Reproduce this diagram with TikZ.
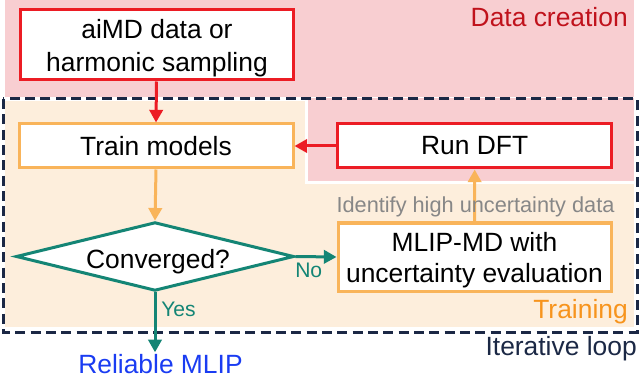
\documentclass[tikz,border=0pt]{standalone}
\usepackage{fontspec}
\setmainfont{Liberation Sans}
\usetikzlibrary{arrows.meta,shapes.geometric}
\definecolor{pinkbg}{HTML}{F8CED1}
\definecolor{orangebg}{HTML}{FDEEDC}
\definecolor{redline}{HTML}{EC1C24}
\definecolor{orangeline}{HTML}{F9B45A}
\definecolor{tealc}{HTML}{148575}
\definecolor{navy}{HTML}{1B2845}
\definecolor{darkred}{HTML}{C0121C}
\definecolor{orangetxt}{HTML}{F7941D}
\definecolor{bluetxt}{HTML}{1A3CF2}
\definecolor{graytxt}{HTML}{878787}
\newcommand{\mainf}{\fontsize{19.8pt}{24pt}\selectfont}
\newcommand{\smallf}{\fontsize{16.3pt}{19pt}\selectfont}
\newcommand{\yesf}{\fontsize{15.8pt}{19pt}\selectfont}
\begin{document}
\begin{tikzpicture}[x=0.75pt,y=-0.75pt,
  box/.style={draw, fill=white, line width=2.25pt, inner sep=0pt, font=\mainf},
  redbox/.style={box, draw=redline},
  orbox/.style={box, draw=orangeline},
  txt/.style={inner sep=0pt, font=\mainf, text=black},
  arr/.style={line width=2.25pt, -{Triangle[length=9.5pt,width=10pt]}},
  loopline/.style={draw=navy, line width=2.25pt, dash pattern=on 7.5pt off 4pt}
]
\useasboundingbox (0,0) rectangle (640,378);
% backgrounds
\fill[orangebg] (5,101) rectangle (634,327);
\fill[pinkbg] (5,0) rectangle (634,97);
\fill[white] (305,98) rectangle (634,184);
\fill[pinkbg] (308,98) rectangle (634,181);
\draw[loopline] (3,99) rectangle (637,332);
% labels of regions
\node[inner sep=0pt, anchor=base east, font=\mainf, text=darkred] (lbldata) at (628,27) {Data creation};
\node[inner sep=0pt, anchor=base east, font=\mainf, text=orangetxt] (lbltrain) at (628,318) {Training};
\node[inner sep=0pt, anchor=base east, font=\mainf, text=navy] (lblloop) at (637,355) {Iterative loop};
% boxes
\node[redbox, minimum width=204.75pt, minimum height=52.5pt] (aimd) at (156.5,45) {};
\node[txt, align=center, font=\fontsize{19.8pt}{24.75pt}\selectfont] (aimdt) at (157,47.75) {aiMD data or\\harmonic sampling};
\node[orbox, minimum width=205.5pt, minimum height=33pt] (train) at (156,146) {Train models};
\node[redbox, minimum width=205.5pt, minimum height=33pt] (dft) at (474.7,146) {Run DFT};
\node[orbox, minimum width=204.75pt, minimum height=51pt] (mlip) at (474.5,257) {};
\node[txt, align=center, font=\fontsize{19.8pt}{23.25pt}\selectfont] (mlipt) at (474.5,259.75) {MLIP-MD with\\uncertainty evaluation};
\node[diamond, draw=tealc, fill=white, line width=2.25pt, inner sep=0pt, minimum width=208.5pt, minimum height=51.5pt] (conv) at (155,256.5) {};
\node[txt, anchor=base] (convt) at (158,268) {Converged?};
\node[inner sep=0pt, anchor=base, font=\mainf, text=bluetxt] (reliable) at (160.5,373) {Reliable MLIP};
% connectors
\draw[arr, redline] (aimd.south) -- (train.north);
\draw[arr, redline] (dft.west) -- (train.east);
\draw[arr, orangeline] (train.south) -- (conv.north);
\draw[arr, tealc] (conv.east) -- (mlip.west);
\draw[arr, orangeline] (mlip.north) -- (dft.south);
\draw[arr, tealc] (conv.south) -- ([yshift=1pt]conv.south |- reliable.north);
% connector labels
\node[inner sep=0pt, anchor=base, font=\smallf, text=graytxt] (ident) at (475.5,213) {Identify high uncertainty data};
\node[inner sep=0pt, anchor=base west, font=\yesf, text=tealc] (yes) at (161,316) {Yes};
\node[inner sep=0pt, anchor=base west, font=\yesf, text=tealc] (no) at (295,277) {No};
\end{tikzpicture}
\end{document}
